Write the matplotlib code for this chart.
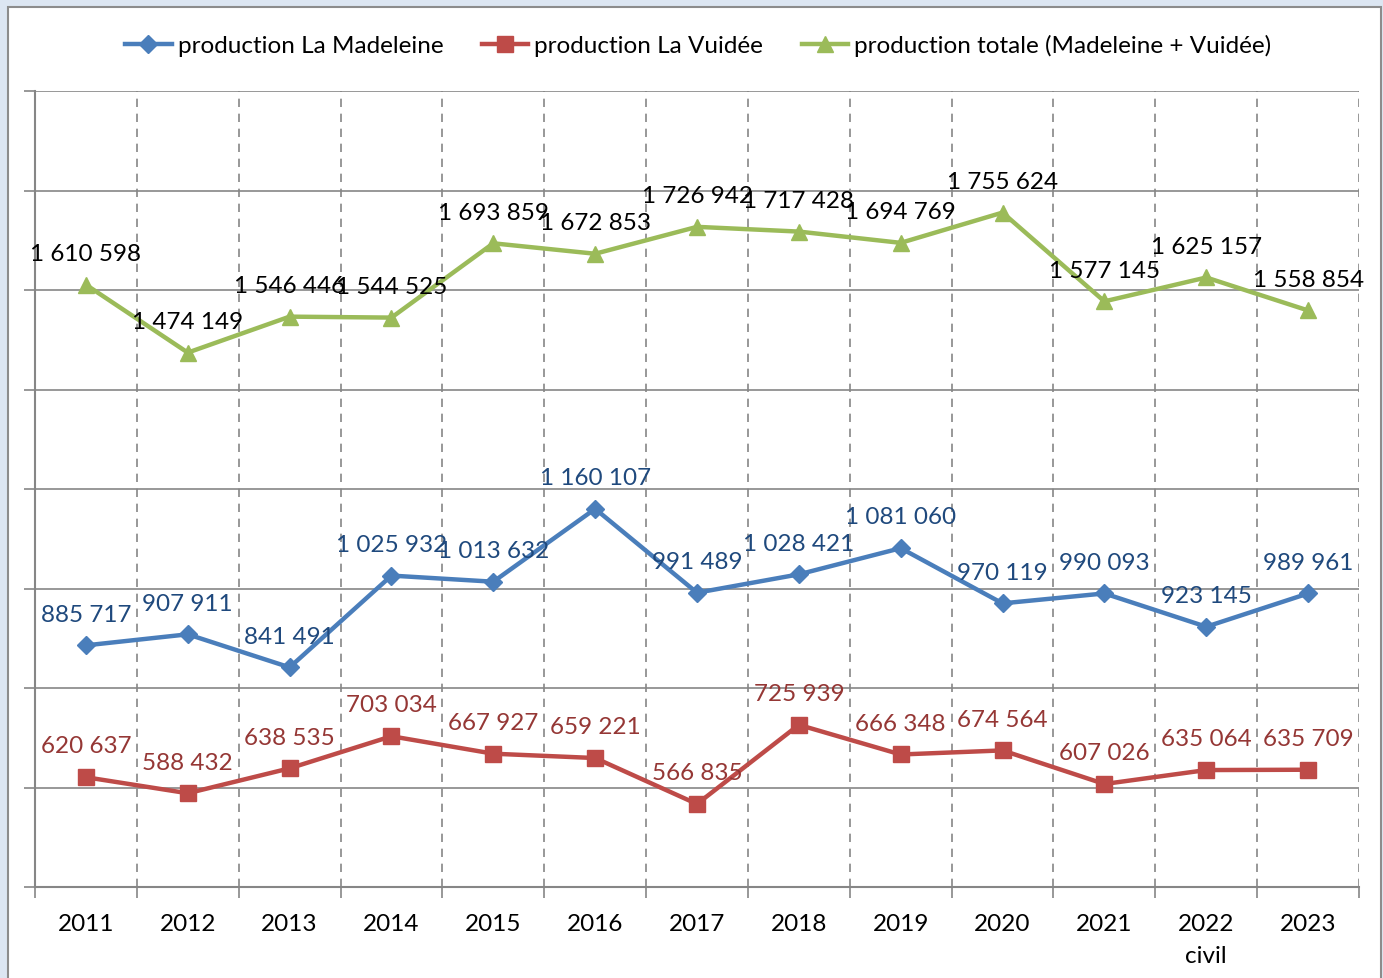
import matplotlib
matplotlib.use("Agg")
import matplotlib.pyplot as plt
from matplotlib.patches import Rectangle

years = ["2011", "2012", "2013", "2014", "2015", "2016", "2017", "2018",
         "2019", "2020", "2021", "2022\ncivil", "2023"]
madeleine = [885717, 907911, 841491, 1025932, 1013632, 1160107, 991489,
             1028421, 1081060, 970119, 990093, 923145, 989961]
vuidee = [620637, 588432, 638535, 703034, 667927, 659221, 566835,
          725939, 666348, 674564, 607026, 635064, 635709]
totale = [1610598, 1474149, 1546446, 1544525, 1693859, 1672853, 1726942,
          1717428, 1694769, 1755624, 1577145, 1625157, 1558854]

series_names = ["production La Madeleine", "production La Vuidée",
                "production totale (Madeleine + Vuidée)"]

plt.rcParams['font.family'] = ['Lato', 'DejaVu Sans']
FS = 17.5

W, H = 1383, 979
fig = plt.figure(figsize=(W / 100, H / 100), dpi=100)
fig.patch.set_facecolor("#dce6f2")
bg = Rectangle((8 / W, -0.01), (1381 - 8) / W, 1 - 8 / H + 0.01,
               transform=fig.transFigure, facecolor="white",
               edgecolor="#8c8c8c", linewidth=1.5, zorder=-10)
fig.add_artist(bg)

ax = fig.add_axes([35 / W, (H - 888) / H, (1359 - 35) / W, (888 - 92) / H])
ax.set_facecolor("none")
ax.set_zorder(1)
x = list(range(len(years)))

grid_c = "#868686"
ax.set_xlim(-0.5, len(years) - 0.5)
ax.set_ylim(400000, 2000000)
yt = list(range(400000, 2000001, 200000))
ax.set_yticks(yt)
ax.set_yticklabels([""] * len(yt))
for v in yt[1:]:
    ax.axhline(v, color=grid_c, lw=1.2, zorder=1)
for b in [i + 0.5 for i in range(len(years))]:
    ax.axvline(b, color=grid_c, lw=1.2, ls=(0, (5, 4)), zorder=1)

ax.set_xticks(x)
ax.set_xticklabels(years, fontsize=FS, color="black", linespacing=1.6)
ax.tick_params(axis='x', length=0, pad=19)
ax.set_xticks([i - 0.5 for i in range(len(years) + 1)], minor=True)
ax.tick_params(axis='x', which='minor', length=8, color=grid_c, width=1.2)
ax.tick_params(axis='y', length=8, color=grid_c, width=1.2)
for s in ["top", "right"]:
    ax.spines[s].set_visible(False)
for s in ["left", "bottom"]:
    ax.spines[s].set_color(grid_c)
    ax.spines[s].set_linewidth(1.5)


def fmt(v):
    return f"{v:,}".replace(",", " ")


specs = [
    (madeleine, "#4a7ebb", "D", 9, "#1f497d"),
    (vuidee, "#be4b48", "s", 11, "#953735"),
    (totale, "#9bbb59", "^", 12, "black"),
]
handles = []
for (vals, col, mk, ms, lc), name in zip(specs, series_names):
    h, = ax.plot(x, vals, color=col, lw=3.2, marker=mk, ms=ms,
                 markeredgecolor=col, markerfacecolor=col, zorder=3,
                 label=name, clip_on=False)
    handles.append(h)
    for xi, v in zip(x, vals):
        ax.annotate(fmt(v), (xi, v), xytext=(0, 22.5), textcoords="offset points",
                    ha="center", va="center", fontsize=FS, color=lc, zorder=4)

leg = fig.legend(handles=handles, loc="center", bbox_to_anchor=(0.505, 1 - 46 / H),
                 ncol=3, frameon=False, fontsize=FS, handlelength=1.9,
                 handletextpad=0.25, columnspacing=1.6)

fig.savefig("out.png", dpi=100, facecolor=fig.get_facecolor())
